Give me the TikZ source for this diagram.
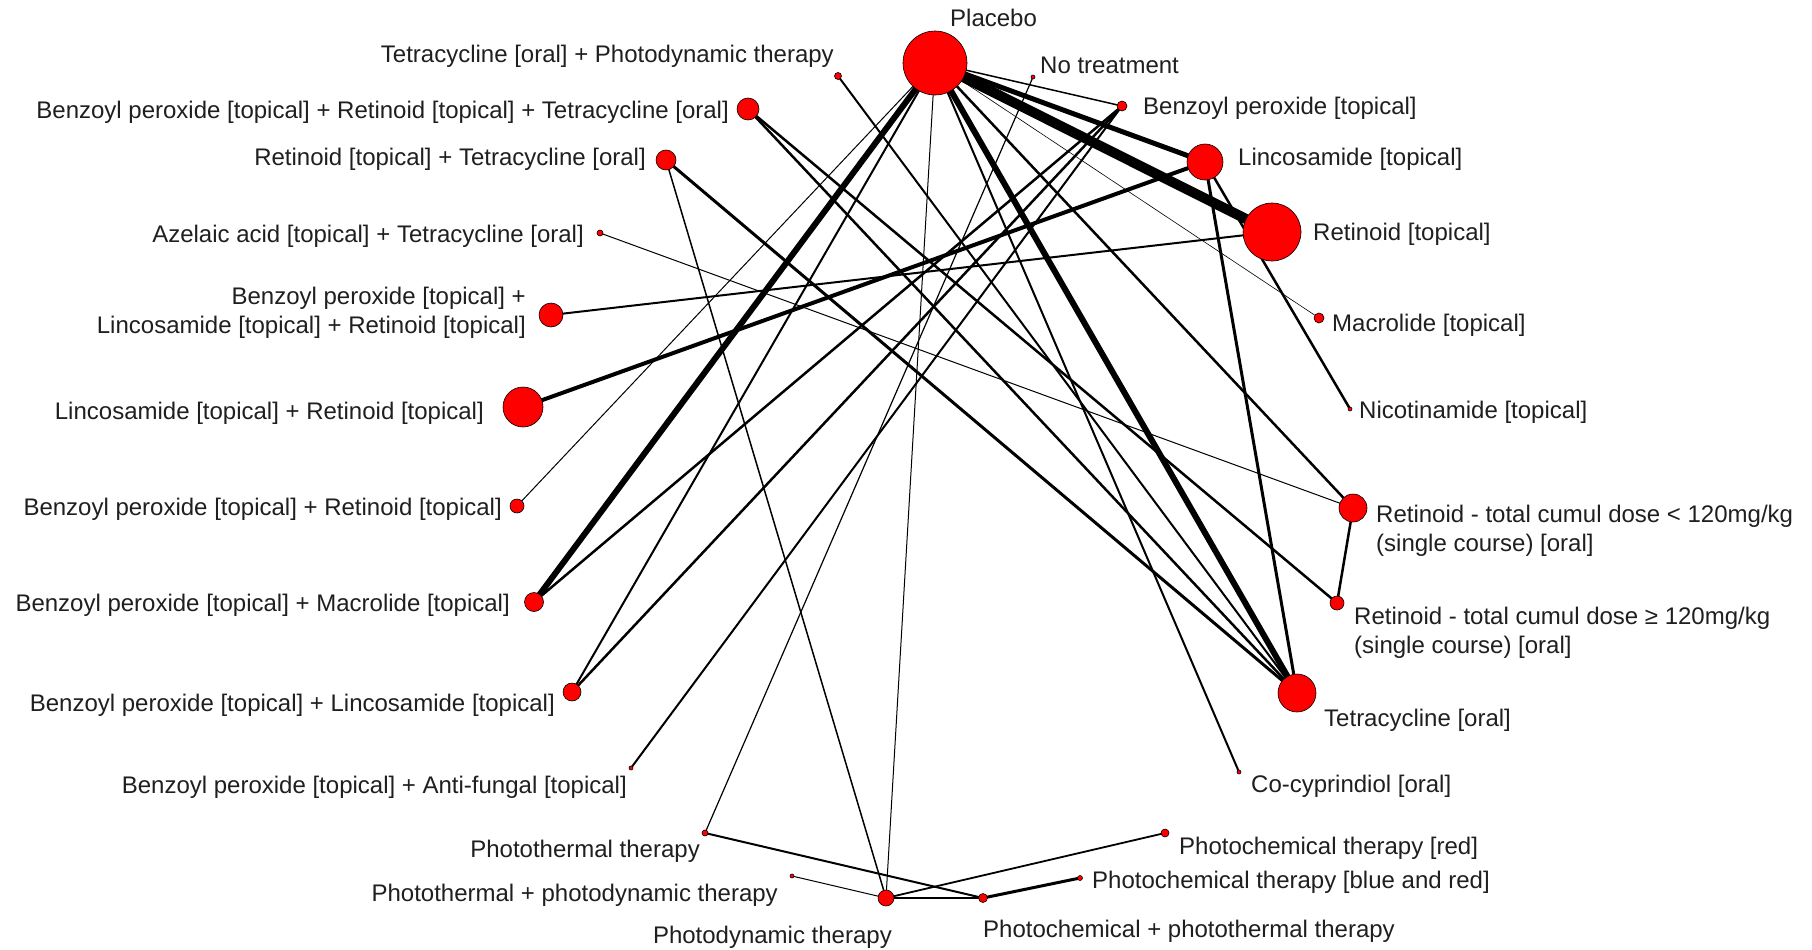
\documentclass[tikz,border=0pt]{standalone}
\usepackage{fontspec}
\setmainfont{Liberation Sans}
\pgfdeclarelayer{bg}
\pgfsetlayers{bg,main}
\begin{document}
\begin{tikzpicture}[x=1pt,y=-1pt,
  trt/.style={circle, fill=red, draw=black, line width=0.6pt, inner sep=0pt},
  lbl/.style={font=\fontsize{24}{29}\selectfont, inner sep=0pt, text=black!88, align=left},
  lnk/.style={line width=#1, draw=black, line cap=butt}]
\useasboundingbox (0,0) rectangle (1812,950);
% treatment nodes
\node[trt, minimum size=64pt] (plc) at (935,63) {};
\node[trt, minimum size=4pt] (nt) at (1033,77) {};
\node[trt, minimum size=10pt] (bpt) at (1122,106) {};
\node[trt, minimum size=36pt] (lin) at (1205,162) {};
\node[trt, minimum size=58pt] (ret) at (1272,232) {};
\node[trt, minimum size=10pt] (mac) at (1319,318) {};
\node[trt, minimum size=4pt] (nic) at (1350,409) {};
\node[trt, minimum size=28pt] (rlo) at (1353,508) {};
\node[trt, minimum size=14pt] (rhi) at (1337,603) {};
\node[trt, minimum size=38pt] (tet) at (1297,693) {};
\node[trt, minimum size=4pt] (cocy) at (1239,772) {};
\node[trt, minimum size=8pt] (pcred) at (1165,833) {};
\node[trt, minimum size=5pt] (pcbr) at (1080,878) {};
\node[trt, minimum size=9pt] (pcpt) at (983,898) {};
\node[trt, minimum size=16pt] (pdt) at (886,898) {};
\node[trt, minimum size=4pt] (ptpdt) at (792,876) {};
\node[trt, minimum size=6pt] (pth) at (705,833) {};
\node[trt, minimum size=4pt] (bpaf) at (631,768) {};
\node[trt, minimum size=18pt] (bplin) at (572,692) {};
\node[trt, minimum size=19pt] (bpmac) at (534,602) {};
\node[trt, minimum size=14pt] (bpret) at (517,506) {};
\node[trt, minimum size=40pt] (linret) at (523,407) {};
\node[trt, minimum size=24pt] (bplr) at (551,315) {};
\node[trt, minimum size=6pt] (aze) at (600,233) {};
\node[trt, minimum size=20pt] (rettet) at (666,160) {};
\node[trt, minimum size=22pt] (brt) at (748,109) {};
\node[trt, minimum size=7pt] (tpdt) at (838,76) {};
% connectors
\begin{pgfonlayer}{bg}
\fill[white] (0,0) rectangle (1812,950);
\draw[lnk=1.5pt] (plc.center) -- (bpt.center);
\draw[lnk=5pt] (plc.center) -- (lin.center);
\draw[lnk=10pt] (plc.center) -- (ret.center);
\draw[lnk=0.6pt] (plc.center) -- (mac.center);
\draw[lnk=6pt] (plc.center) -- (tet.center);
\draw[lnk=2.5pt] (plc.center) -- (rlo.center);
\draw[lnk=2pt] (plc.center) -- (cocy.center);
\draw[lnk=1pt] (plc.center) -- (pdt.center);
\draw[lnk=6pt] (plc.center) -- (bpmac.center);
\draw[lnk=2pt] (plc.center) -- (bplin.center);
\draw[lnk=1pt] (plc.center) -- (bpret.center);
\draw[lnk=4pt] (lin.center) -- (linret.center);
\draw[lnk=3pt] (lin.center) -- (tet.center);
\draw[lnk=2.5pt] (lin.center) -- (nic.center);
\draw[lnk=2pt] (ret.center) -- (bplr.center);
\draw[lnk=2.5pt] (bpt.center) -- (bpmac.center);
\draw[lnk=2.5pt] (bpt.center) -- (bplin.center);
\draw[lnk=2pt] (bpt.center) -- (bpaf.center);
\draw[lnk=1.2pt] (nt.center) -- (pth.center);
\draw[lnk=2pt] (tpdt.center) -- (tet.center);
\draw[lnk=2.5pt] (brt.center) -- (tet.center);
\draw[lnk=2.5pt] (brt.center) -- (rhi.center);
\draw[lnk=3pt] (rettet.center) -- (tet.center);
\draw[lnk=1.5pt] (rettet.center) -- (pdt.center);
\draw[lnk=1pt] (aze.center) -- (rlo.center);
\draw[lnk=2.5pt] (rlo.center) -- (rhi.center);
\draw[lnk=2pt] (pth.center) -- (pcpt.center);
\draw[lnk=1pt] (ptpdt.center) -- (pdt.center);
\draw[lnk=1.8pt] (pdt.center) -- (pcpt.center);
\draw[lnk=1.8pt] (pdt.center) -- (pcred.center);
\draw[lnk=3pt] (pcpt.center) -- (pcbr.center);
\end{pgfonlayer}
% labels
\node[lbl, anchor=west] (lplc) at (950,18) {Placebo};
\node[lbl, anchor=west] (lnt) at (1040,65) {No treatment};
\node[lbl, anchor=west] (lbpt) at (1143,108) {Benzoyl peroxide [topical]};
\node[lbl, anchor=west] (llin) at (1238,159) {Lincosamide [topical]};
\node[lbl, anchor=west] (lret) at (1313,234) {Retinoid [topical]};
\node[lbl, anchor=west] (lmac) at (1332,325) {Macrolide [topical]};
\node[lbl, anchor=west] (lnic) at (1359,412) {Nicotinamide [topical]};
\node[lbl, anchor=west] (lrlo) at (1376,531) {Retinoid - total cumul dose {<} 120mg/kg\\(single course) [oral]};
\node[lbl, anchor=west] (lrhi) at (1354,633) {Retinoid - total cumul dose ≥ 120mg/kg\\(single course) [oral]};
\node[lbl, anchor=west] (ltet) at (1324,720) {Tetracycline [oral]};
\node[lbl, anchor=west] (lcocy) at (1251,786) {Co-cyprindiol [oral]};
\node[lbl, anchor=west] (lpcred) at (1179,848) {Photochemical therapy [red]};
\node[lbl, anchor=west] (lpcbr) at (1092,882) {Photochemical therapy [blue and red]};
\node[lbl, anchor=west] (lpcpt) at (983,931) {Photochemical + photothermal therapy};
\node[lbl, anchor=east] (lpdt) at (892,937) {Photodynamic therapy};
\node[lbl, anchor=east] (lptpdt) at (778,895) {Photothermal + photodynamic therapy};
\node[lbl, anchor=east] (lpth) at (700,851) {Photothermal therapy};
\node[lbl, anchor=east] (lbpaf) at (627,787) {Benzoyl peroxide [topical] + Anti-fungal [topical]};
\node[lbl, anchor=east] (lbplin) at (555,705) {Benzoyl peroxide [topical] + Lincosamide [topical]};
\node[lbl, anchor=east] (lbpmac) at (510,605) {Benzoyl peroxide [topical] + Macrolide [topical]};
\node[lbl, anchor=east] (lbpret) at (502,509) {Benzoyl peroxide [topical] + Retinoid [topical]};
\node[lbl, anchor=east] (llinret) at (484,413) {Lincosamide [topical] + Retinoid [topical]};
\node[lbl, anchor=east, align=right] (lbplr) at (526,313) {Benzoyl peroxide [topical] +\\Lincosamide [topical] + Retinoid [topical]};
\node[lbl, anchor=east] (laze) at (584,236) {Azelaic acid [topical] + Tetracycline [oral]};
\node[lbl, anchor=east] (lrettet) at (646,159) {Retinoid [topical] + Tetracycline [oral]};
\node[lbl, anchor=east] (lbrt) at (729,112) {Benzoyl peroxide [topical] + Retinoid [topical] + Tetracycline [oral]};
\node[lbl, anchor=east] (ltpdt) at (834,56) {Tetracycline [oral] + Photodynamic therapy};
\end{tikzpicture}
\end{document}
